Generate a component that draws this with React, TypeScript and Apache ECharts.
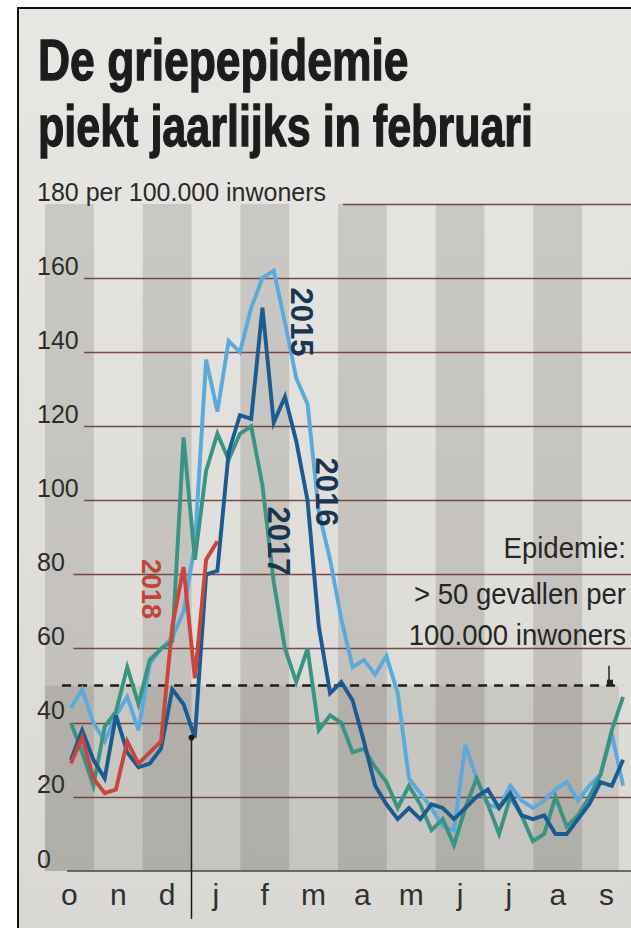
import React, { useEffect, useRef } from 'react';
import * as echarts from 'echarts';

// ---------- data ----------
const months = ['o', 'n', 'd', 'j', 'f', 'm', 'a', 'm', 'j', 'j', 'a', 's'];
const yTicks = [0, 20, 40, 60, 80, 100, 120, 140, 160, 180];
const seriesNames = ['2015', '2016', '2017', '2018'];

// weekly incidence per 100.000 inhabitants, from mid October onward
const flu2015 = [44, 49, 40, 35, 42, 47, 38, 56, 60, 63, 70, 88, 138, 124, 143, 140, 152, 160, 162, 148,
  133, 126, 97, 84, 68, 55, 57, 53, 58, 48, 25, 21, 17, 12, 11, 34, 25, 18, 17, 23,
  19, 17, 19, 22, 24, 19, 23, 26, 37, 23];
const flu2016 = [30, 38, 30, 25, 42, 32, 28, 29, 33, 49, 45, 36, 80, 81, 113, 123, 122, 152, 121, 128,
  116, 100, 66, 48, 51, 46, 35, 23, 18, 14, 17, 14, 18, 17, 14, 17, 20, 22, 17, 21,
  15, 14, 15, 10, 10, 14, 18, 24, 23, 30];
const flu2017 = [40, 32, 23, 39, 43, 55, 45, 57, 60, 62, 117, 84, 108, 118, 111, 118, 120, 104, 78, 60,
  51, 60, 38, 42, 40, 32, 33, 28, 24, 17, 23, 18, 11, 14, 7, 17, 25, 18, 10, 20,
  15, 8, 10, 20, 12, 15, 20, 26, 38, 47];
const flu2018 = [29, 36, 25, 21, 22, 35, 29, 32, 35, 66, 82, 52, 84, 89];
const epidemicThreshold = 50;

// ---------- layout constants ----------
const FIRST_WEEK = 0.53; // month position of first weekly point
const WEEK = 12 / 52; // one week in months
const JAN = 3; // month index of 1 January
const SANS = "'Liberation Sans', Arial, sans-serif";

const toPoints = (vals: number[]) => vals.map((v, i) => [FIRST_WEEK + i * WEEK, v]);

const gridStart = (v: number) => (v === 180 ? 6.1 : v === 0 ? 0.45 : v >= 100 ? 0.8 : 0.58);

const stripes = months
  .map((_, i) => i)
  .filter((i) => i % 2 === 0)
  .map((i) => [
    { xAxis: i, yAxis: 0 },
    { xAxis: i + 1, yAxis: 180 },
  ]);

const markAreaData: any[] = [
  ...stripes,
  [
    { xAxis: 0, yAxis: 0, itemStyle: { color: 'rgba(60,55,50,0.12)' } },
    { xAxis: 11.75, yAxis: epidemicThreshold },
  ],
];

const markLineData: any[] = [
  ...yTicks.map((v) => [
    {
      coord: [gridStart(v), v],
      lineStyle: v === 0
        ? { color: '#4a4444', width: 1.6, type: 'solid' }
        : { color: '#6b3b34', width: 1.4, type: 'solid', opacity: 0.9 },
    },
    { coord: [12, v] },
  ]),
  [
    { coord: [0.35, epidemicThreshold], lineStyle: { color: '#1e1e1e', width: 2.6, type: [9, 7] } },
    { coord: [11.82, epidemicThreshold] },
  ],
];

const colors: Record<string, string> = {
  '2015': '#5aaadb',
  '2016': '#1c5b8f',
  '2017': '#3a9483',
  '2018': '#c8463b',
};

const values: Record<string, number[]> = {
  '2015': flu2015,
  '2016': flu2016,
  '2017': flu2017,
  '2018': flu2018,
};

const drawOrder = ['2015', '2017', '2016', '2018'];

const option: any = {
  animation: false,
  grid: { left: 45, right: 0, top: 204, bottom: 57, containLabel: false },
  xAxis: [
    { type: 'value', min: 0, max: 12, show: false },
    {
      type: 'category',
      data: months,
      position: 'bottom',
      boundaryGap: true,
      axisLine: { show: false },
      axisTick: { show: false },
      splitLine: { show: false },
      axisLabel: {
        fontSize: 30,
        color: '#303030',
        fontFamily: SANS,
        margin: 8,
        interval: 0,
        formatter: (_v: string, i: number) => months[i],
      },
    },
  ],
  yAxis: {
    type: 'value',
    min: 0,
    max: 180,
    interval: 20,
    axisLine: { show: false },
    axisTick: { show: false },
    splitLine: { show: false },
    axisLabel: {
      inside: true,
      margin: -8,
      verticalAlign: 'bottom',
      fontSize: 25,
      color: '#2a2a2a',
      fontFamily: SANS,
      formatter: (v: number) => (v === 180 ? '180 per 100.000 inwoners' : String(v)),
    },
  },
  series: [
    {
      type: 'line',
      name: 'background',
      data: [],
      silent: true,
      xAxisIndex: 0,
      markArea: {
        silent: true,
        z: 1,
        itemStyle: { color: 'rgba(60,55,50,0.16)' },
        label: { show: false },
        emphasis: { disabled: true },
        data: markAreaData,
      },
      markLine: {
        silent: true,
        z: 1,
        symbol: ['none', 'none'],
        label: { show: false },
        emphasis: { disabled: true },
        data: markLineData,
      },
    },
    ...drawOrder.map((name) => ({
      type: 'line',
      name,
      xAxisIndex: 0,
      data: toPoints(values[name]),
      symbol: 'none',
      silent: true,
      z: 3,
      lineStyle: { color: colors[name], width: 3.9, join: 'miter' },
    })),
  ],
};

const labelPos: Record<string, { x: number; y: number; size: number; color: string }> = {
  '2015': { x: 301, y: 322, size: 31, color: '#1b3450' },
  '2016': { x: 326, y: 492, size: 31, color: '#1b3450' },
  '2017': { x: 278, y: 541, size: 31, color: '#1b3450' },
  '2018': { x: 151, y: 589, size: 27, color: '#c0453a' },
};

export default function App() {
  const ref = useRef<HTMLDivElement>(null);
  useEffect(() => {
    document.body.style.margin = '0';
    const chart = echarts.init(ref.current as HTMLDivElement, undefined, { renderer: 'svg' });
    chart.setOption(option);

    const janTop = chart.convertToPixel({ xAxisIndex: 0, yAxisIndex: 0 }, [JAN, 36]) as number[];
    const janBase = chart.convertToPixel({ xAxisIndex: 0, yAxisIndex: 0 }, [JAN, 0]) as number[];
    const thr = chart.convertToPixel({ xAxisIndex: 0, yAxisIndex: 0 }, [11.55, epidemicThreshold]) as number[];

    const titleStyle = {
      fontSize: 57, fontWeight: 'bold', fontFamily: SANS, fill: '#1c1c1c',
      stroke: '#1c1c1c', lineWidth: 1.3, align: 'left', verticalAlign: 'middle',
    };
    const noteStyle = { fontSize: 29, fontFamily: SANS, fill: '#262626', align: 'right', verticalAlign: 'middle' };

    const elements: any[] = [
      {
        type: 'rect',
        z: -5,
        silent: true,
        shape: { x: 0, y: 0, width: 631, height: 928 },
        style: {
          fill: {
            type: 'linear', x: 0, y: 0, x2: 0, y2: 1,
            colorStops: [
              { offset: 0, color: '#e8e7e4' },
              { offset: 1, color: '#dad8d4' },
            ],
          },
        },
      },
      { type: 'rect', z: 50, silent: true, shape: { x: 0, y: 0, width: 17, height: 928 }, style: { fill: '#ffffff' } },
      { type: 'rect', z: 50, silent: true, shape: { x: 0, y: 0, width: 631, height: 7 }, style: { fill: '#ffffff' } },
      { type: 'rect', z: 51, silent: true, shape: { x: 17, y: 7, width: 2, height: 921 }, style: { fill: '#111111' } },
      { type: 'rect', z: 51, silent: true, shape: { x: 17, y: 7, width: 614, height: 2 }, style: { fill: '#111111' } },
      {
        type: 'text', z: 10, silent: true, x: 38, y: 60, scaleX: 0.78,
        style: { ...titleStyle, text: 'De griepepidemie' },
      },
      {
        type: 'text', z: 10, silent: true, x: 38, y: 126, scaleX: 0.755,
        style: { ...titleStyle, text: 'piekt jaarlijks in februari' },
      },
      { type: 'text', z: 10, silent: true, x: 626, y: 548, scaleX: 0.95, style: { ...noteStyle, text: 'Epidemie:' } },
      { type: 'text', z: 10, silent: true, x: 626, y: 594, scaleX: 0.95, style: { ...noteStyle, text: '> 50 gevallen per' } },
      { type: 'text', z: 10, silent: true, x: 626, y: 635, scaleX: 0.95, style: { ...noteStyle, text: '100.000 inwoners' } },
      {
        type: 'line', z: 10, silent: true,
        shape: { x1: thr[0], y1: thr[1] - 20, x2: thr[0], y2: thr[1] },
        style: { stroke: '#222222', lineWidth: 1.5 },
      },
      {
        type: 'rect', z: 10, silent: true,
        shape: { x: thr[0] - 2, y: thr[1] - 6, width: 6, height: 6 },
        style: { fill: '#222222' },
      },
      {
        type: 'line', z: 10, silent: true,
        shape: { x1: janTop[0], y1: janTop[1], x2: janBase[0], y2: janBase[1] + 48 },
        style: { stroke: '#1a1a1a', lineWidth: 1.5 },
      },
      { type: 'circle', z: 10, silent: true, shape: { cx: janTop[0], cy: janTop[1], r: 3 }, style: { fill: '#1a1a1a' } },
      ...seriesNames.map((name) => {
        const p = labelPos[name];
        return {
          type: 'text', z: 10, silent: true, x: p.x, y: p.y, rotation: -Math.PI / 2,
          style: { text: name, fontSize: p.size, fontWeight: 'bold', fontFamily: SANS, fill: p.color, align: 'center', verticalAlign: 'middle' },
        };
      }),
    ];
    chart.setOption({ graphic: { elements } });
    return () => chart.dispose();
  }, []);
  return <div ref={ref} style={{ width: 631, height: 928 }} />;
}
